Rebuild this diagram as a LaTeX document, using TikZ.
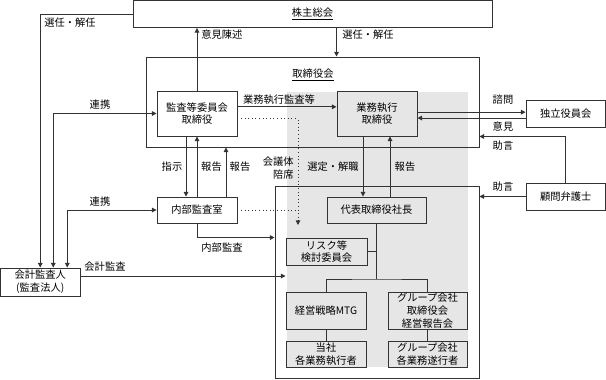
\documentclass[tikz,border=0pt]{standalone}
\usepackage{fontspec}
\newfontfamily\jp{Noto Sans CJK JP}
\usetikzlibrary{arrows.meta, positioning}
\definecolor{linegray}{HTML}{333333}
\definecolor{execgray}{HTML}{E6E6E6}
\newcommand{\jpfont}{\jp\fontsize{7.7}{9.5}\selectfont}

\begin{document}
\begin{tikzpicture}[
  x=0.75pt, y=-0.75pt,
  box/.style={draw=linegray, line width=0.7pt, fill=white, align=center,
    font=\jpfont, inner sep=0pt, minimum width=60pt, minimum height=20.25pt},
  gbox/.style={box, fill=none},
  frame/.style={draw=linegray, line width=0.7pt, inner sep=0pt},
  lbl/.style={font=\jpfont, inner sep=0pt},
  wire/.style={draw=linegray, line width=0.7pt},
  arr/.style={wire, ->},
  link/.style={wire, <->},
  dot/.style={wire, dotted},
  >={Triangle[length=3.5pt,width=3.5pt]}
]
  \useasboundingbox (0,0) rectangle (606,379);
  % Executive area
  \fill[execgray] (287,92) rectangle (468,367);
  \node[frame, minimum width=249.75pt, minimum height=67.5pt] (board) at (312.5,102) {};
  \node[lbl] at (313,75) {\underline{取締役会}};
  \node[frame, minimum width=153pt, minimum height=144pt] (exec) at (377,282) {};

  % Boxes
  \node[box, minimum width=269.25pt] (kabu) at (312.5,14) {\underline{株主総会}};
  \node[box, minimum height=33.75pt] (kansa) at (197,113.5) {監査等委員会\\取締役};
  \node[gbox, minimum height=33.75pt] (gyomu) at (377,113.5) {業務執行\\取締役};
  \node[box, minimum height=19.5pt] (naibu) at (197,210) {内部監査室};
  \node[box, minimum width=59.6pt, minimum height=21pt] (kaikei) at (40.25,282)
    {会計監査人\\(監査法人)};
  \node[box, minimum width=59.6pt] (dokuritsu) at (565.75,113.5) {独立役員会};
  \node[box, minimum width=59.6pt] (komon) at (565.75,196.5) {顧問弁護士};
  \node[gbox, minimum width=74.25pt, minimum height=19.5pt] (daihyo) at (376.5,210)
    {代表取締役社長};
  \node[gbox, minimum width=60.75pt] (risk) at (326.5,251.5) {リスク等\\検討委員会};
  \node[gbox, minimum height=27.75pt] (mtg) at (326,310.5) {経営戦略MTG};
  \node[gbox, minimum width=59.25pt, minimum height=27.75pt] (group) at (427.5,310.5)
    {グループ会社\\取締役会\\経営報告会};
  \node[gbox, minimum height=19.5pt] (tosha) at (326,354) {当社\\各業務執行者};
  \node[gbox, minimum width=59.25pt, minimum height=19.5pt] (groupexec) at (427.5,354)
    {グループ会社\\各業務遂行者};

  % Shareholders
  \draw[arr] (kabu.west) -| (kaikei.north);
  \node[lbl] at (70,23) {選任・解任};
  \draw[arr] (kansa.north) -- (kansa.north |- kabu.south);
  \node[lbl, anchor=west] at (201,35) {意見陳述};
  \draw[arr] (gyomu.north west |- kabu.south) -- (gyomu.north west |- board.north);
  \node[lbl, anchor=west] at (342,35) {選任・解任};

  % Audit committee
  \draw[arr] ([yshift=5pt]kansa.east) -- ([yshift=5pt]gyomu.west);
  \node[lbl] at (279,100) {業務執行監査等};
  \coordinate (seat) at (298,225);
  \draw[dot, ->] ([yshift=-4pt]kansa.east) -| (seat);
  \draw[dot] (naibu.east) -- (naibu.east -| seat);
  \node[lbl, align=right, anchor=east] at (294,168) {会議体\\陪席};

  % Internal audit
  \draw[arr] ([xshift=-8.25pt]kansa.south) -- ([xshift=-8.25pt]naibu.north);
  \draw[arr] (naibu.north) -- (kansa.south);
  \draw[arr] ([xshift=21.75pt]naibu.north) -- ([xshift=21.75pt]naibu.north |- board.south);
  \node[lbl] at (172,167) {指示};
  \node[lbl] at (211.5,167) {報告};
  \node[lbl] at (240,167) {報告};
  \draw[arr] (naibu.south) |- (exec.west |- risk.north);
  \node[lbl] at (222,248) {内部監査};

  % Accounting auditor
  \draw[arr] ([yshift=4.5pt]kaikei.east) -- ([yshift=4.5pt]kaikei.east -| risk.west);
  \node[lbl] at (105,267) {会計監査};
  \draw[link] ([xshift=9.75pt]kaikei.north) |- (kansa.west);
  \node[lbl] at (100,105) {連携};
  \draw[link] ([xshift=20.25pt]kaikei.north) |- (naibu.west);
  \node[lbl] at (100,202) {連携};

  % Executive directors
  \draw[arr] ([xshift=-10.5pt]gyomu.south) -- ([xshift=-10.5pt]gyomu.south |- daihyo.north);
  \draw[arr] ([xshift=9.75pt]gyomu.south |- daihyo.north) -- ([xshift=9.75pt]gyomu.south);
  \node[lbl] at (333,167) {選定・解職};
  \node[lbl] at (405,167) {報告};

  % Independent officers, counsel
  \draw[arr] ([yshift=1pt]gyomu.east) -- ([yshift=1pt]dokuritsu.west);
  \draw[arr] ([yshift=-3.4pt]dokuritsu.west) -- ([yshift=-3.4pt]gyomu.east);
  \node[lbl] at (503,100) {諮問};
  \node[lbl] at (503,127) {意見};
  \draw[arr] (komon.north) |- (board.east |- gyomu.south);
  \node[lbl] at (503,146) {助言};
  \draw[arr] (komon.west) -- (komon.west -| exec.east);
  \node[lbl] at (503,187) {助言};

  % Organisation
  \coordinate (fork) at (376.5,279);
  \draw[wire] (daihyo.south) -- (fork);
  \draw[wire] (risk.east) -- (risk.east -| fork);
  \draw[wire] (mtg.north) |- (fork) -| (group.north);
  \draw[wire] (mtg.south) -- (tosha.north);
  \draw[wire] (group.south) -- (groupexec.north);
\end{tikzpicture}
\end{document}
